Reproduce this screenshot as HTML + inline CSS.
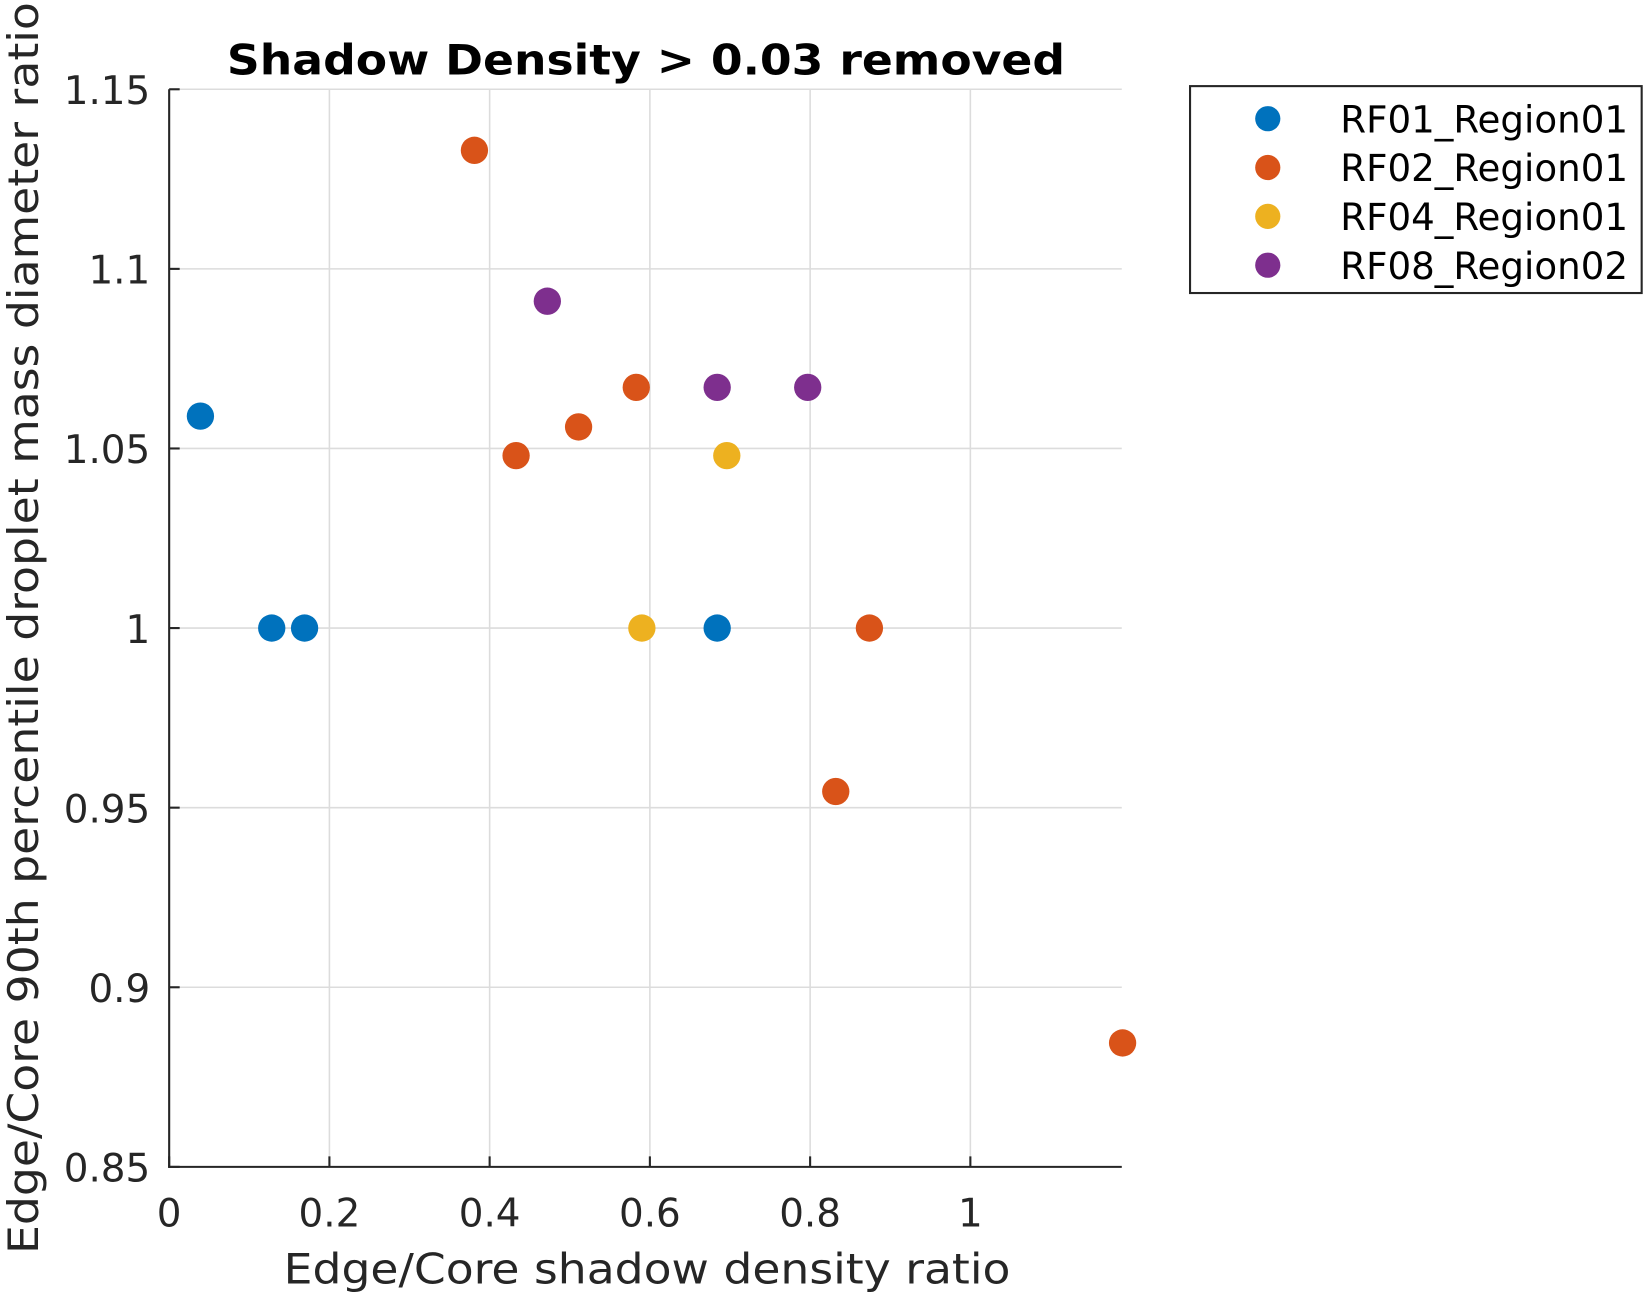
<!DOCTYPE html>
<html><head><meta charset="utf-8"><style>
html,body{margin:0;padding:0;background:#fff;}
svg{display:block;font-family:"DejaVu Sans","Liberation Sans",sans-serif;}
</style></head><body>
<svg id="chart" width="1647" height="1295" viewBox="0 0 1568 1233" xmlns="http://www.w3.org/2000/svg">
<g id="grid"></g>
<g id="axes"></g>
<g id="marks"></g>
<text x="615" y="71" text-anchor="middle" font-size="40" font-weight="bold" fill="#000" textLength="798" lengthAdjust="spacingAndGlyphs">Shadow Density &gt; 0.03 removed</text>
<text x="616" y="1222" text-anchor="middle" font-size="40" fill="#262626" textLength="692" lengthAdjust="spacingAndGlyphs">Edge/Core shadow density ratio</text>
<text transform="translate(36,598) rotate(-90)" text-anchor="middle" font-size="40" fill="#262626" textLength="1192" lengthAdjust="spacingAndGlyphs">Edge/Core 90th percentile droplet mass diameter ratio</text>
<g id="legend"></g>
</svg>
<script>
const seriesNames = ["RF01_Region01","RF02_Region01","RF04_Region01","RF08_Region02"];
const seriesColors = ["#0072BD","#D95319","#EDB120","#7E2F8E"];
const rf01X = [0.039,0.128,0.169,0.684];
const rf01Y = [1.059,1.0,1.0,1.0];
const rf02X = [0.381,0.433,0.511,0.583,0.874,0.832,1.19];
const rf02Y = [1.133,1.048,1.056,1.067,1.0,0.9545,0.8845];
const rf04X = [0.590,0.696];
const rf04Y = [1.0,1.048];
const rf08X = [0.472,0.684,0.797];
const rf08Y = [1.091,1.067,1.067];
const xTicks = [0,0.2,0.4,0.6,0.8,1];
const xTickLabels = ["0","0.2","0.4","0.6","0.8","1"];
const yTicks = [0.85,0.9,0.95,1,1.05,1.1,1.15];
const yTickLabels = ["0.85","0.9","0.95","1","1.05","1.1","1.15"];

const NS="http://www.w3.org/2000/svg";
const L=161,R=1068,T=85,B=1111,xMax=1.189,yMin=0.85,yMax=1.15;
const sx=v=>L+(v/xMax)*(R-L);
const sy=v=>B-(v-yMin)/(yMax-yMin)*(B-T);
function mk(tag,attrs,parent){const e=document.createElementNS(NS,tag);for(const k in attrs)e.setAttribute(k,attrs[k]);parent.appendChild(e);return e;}
const grid=document.getElementById('grid'),axes=document.getElementById('axes'),marks=document.getElementById('marks'),legend=document.getElementById('legend');

xTicks.forEach((t,i)=>{
  const g=mk('line',{x1:sx(t),x2:sx(t),y1:T,y2:B,stroke:'#dcdcdc','stroke-width':1.5},grid);
  
  
  const tk=mk('line',{x1:sx(t),x2:sx(t),y1:B,y2:B-10,stroke:'#262626','stroke-width':2},axes);
  
  
  const tx=mk('text',{x:sx(t),y:B+57,'text-anchor':'middle','font-size':37,fill:'#262626'},axes);
  tx.textContent=xTickLabels[i];
  
  
});
yTicks.forEach((t,i)=>{
  const g=mk('line',{x1:L,x2:R,y1:sy(t),y2:sy(t),stroke:'#dcdcdc','stroke-width':1.5},grid);
  
  
  const tk=mk('line',{x1:L,x2:L+10,y1:sy(t),y2:sy(t),stroke:'#262626','stroke-width':2},axes);
  
  
  const tx=mk('text',{x:L-18,y:sy(t)+14,'text-anchor':'end','font-size':37,fill:'#262626'},axes);
  tx.textContent=yTickLabels[i];
  
  
});
const ya=mk('line',{x1:L,x2:L,y1:T,y2:B+1,stroke:'#262626','stroke-width':2},axes);


const xa=mk('line',{x1:L-1,x2:R,y1:B,y2:B,stroke:'#262626','stroke-width':2},axes);



const allX=[rf01X,rf02X,rf04X,rf08X],allY=[rf01Y,rf02Y,rf04Y,rf08Y];
allX.forEach((xs,s)=>{
  xs.forEach((x,i)=>{
    const c=mk('circle',{cx:sx(x),cy:sy(allY[s][i]),r:13,fill:seriesColors[s]},marks);
    
    
  });
});

const box=mk('rect',{x:1133,y:82,width:430,height:197,fill:'#fff',stroke:'#262626','stroke-width':2},legend);


seriesNames.forEach((n,i)=>{
  const y=113+i*46.5;
  const c=mk('circle',{cx:1207,cy:y,r:12,fill:seriesColors[i]},legend);
  
  
  const t=mk('text',{x:1276,y:y+13,'font-size':36,fill:'#000',textLength:274,lengthAdjust:'spacingAndGlyphs'},legend);
  t.textContent=n;
  
  
});
</script>
</body></html>
